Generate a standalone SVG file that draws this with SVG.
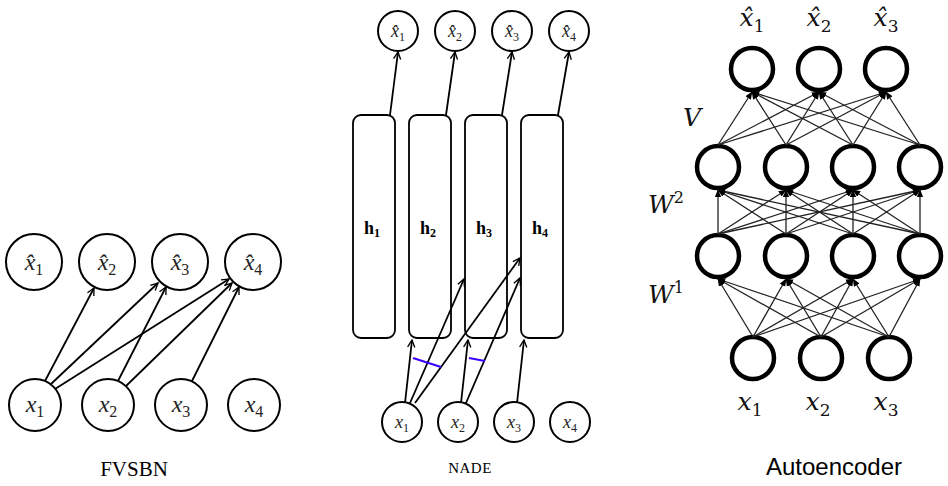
<svg xmlns="http://www.w3.org/2000/svg" width="948" height="486" viewBox="0 0 948 486">
<defs>
<marker id="oa" viewBox="0 0 10 10" refX="9" refY="5" markerWidth="9" markerHeight="9" orient="auto" markerUnits="userSpaceOnUse"><path d="M1,1 L9,5 L1,9" fill="none" stroke="#000" stroke-width="1.5"/></marker>
<marker id="fa" viewBox="0 0 10 10" refX="9" refY="5" markerWidth="8" markerHeight="8" orient="auto" markerUnits="userSpaceOnUse"><path d="M0,1 L10,5 L0,9 Z" fill="#000"/></marker>
</defs>
<style>
.c{fill:#fff;stroke:#000;stroke-width:2}
.ac{fill:#fff;stroke:#000;stroke-width:4.5}
.r{fill:#fff;stroke:#000;stroke-width:1.8}
.e{stroke:#000;stroke-width:1.8;fill:none;marker-end:url(#oa)}
.ae{stroke:#222;stroke-width:1.3;fill:none;marker-end:url(#fa)}
.m{font-family:"Liberation Serif",serif;font-style:italic;text-anchor:middle;fill:#222}
.h{font-family:"Liberation Serif",serif;font-weight:bold;text-anchor:middle;font-size:18px}
.am{font-family:"DejaVu Serif","Liberation Serif",serif;font-style:italic;text-anchor:middle;font-size:25px;fill:#111}
.s{font-style:normal}
</style>
<rect width="948" height="486" fill="#fff"/>

<g id="fvsbn">
<g id="f_xh1"><circle class="c" cx="34" cy="262" r="28"/><text class="m" x="34" y="270" font-size="24">x̂<tspan class="s" font-size="16" dy="5">1</tspan></text></g>
<g id="f_xh2"><circle class="c" cx="107" cy="262" r="28"/><text class="m" x="107" y="270" font-size="24">x̂<tspan class="s" font-size="16" dy="5">2</tspan></text></g>
<g id="f_xh3"><circle class="c" cx="180" cy="262" r="28"/><text class="m" x="180" y="270" font-size="24">x̂<tspan class="s" font-size="16" dy="5">3</tspan></text></g>
<g id="f_xh4"><circle class="c" cx="253" cy="262" r="28"/><text class="m" x="253" y="270" font-size="24">x̂<tspan class="s" font-size="16" dy="5">4</tspan></text></g>
<g id="f_x1"><circle class="c" cx="35" cy="405" r="26"/><text class="m" x="35" y="412" font-size="24">x<tspan class="s" font-size="16" dy="5">1</tspan></text></g>
<g id="f_x2"><circle class="c" cx="108" cy="405" r="26"/><text class="m" x="108" y="412" font-size="24">x<tspan class="s" font-size="16" dy="5">2</tspan></text></g>
<g id="f_x3"><circle class="c" cx="181" cy="405" r="26"/><text class="m" x="181" y="412" font-size="24">x<tspan class="s" font-size="16" dy="5">3</tspan></text></g>
<g id="f_x4"><circle class="c" cx="254" cy="405" r="26"/><text class="m" x="254" y="412" font-size="24">x<tspan class="s" font-size="16" dy="5">4</tspan></text></g>
<text x="134" y="476" font-family="Liberation Serif,serif" font-size="21" text-anchor="middle">FVSBN</text>
</g>

<g id="nade">
<g id="n_xh1"><circle class="c" cx="398" cy="31" r="20"/><text class="m" x="398" y="37" font-size="18">x̂<tspan class="s" font-size="12" dy="4">1</tspan></text></g>
<g id="n_xh2"><circle class="c" cx="455" cy="31" r="20"/><text class="m" x="455" y="37" font-size="18">x̂<tspan class="s" font-size="12" dy="4">2</tspan></text></g>
<g id="n_xh3"><circle class="c" cx="512" cy="31" r="20"/><text class="m" x="512" y="37" font-size="18">x̂<tspan class="s" font-size="12" dy="4">3</tspan></text></g>
<g id="n_xh4"><circle class="c" cx="569" cy="31" r="20"/><text class="m" x="569" y="37" font-size="18">x̂<tspan class="s" font-size="12" dy="4">4</tspan></text></g>
<g id="n_h1"><rect class="r" x="353" y="115" width="42" height="223" rx="8"/><text class="h" x="372" y="234">h<tspan font-size="12" dy="3">1</tspan></text></g>
<g id="n_h2"><rect class="r" x="409" y="115" width="42" height="223" rx="8"/><text class="h" x="428" y="234">h<tspan font-size="12" dy="3">2</tspan></text></g>
<g id="n_h3"><rect class="r" x="465" y="115" width="42" height="223" rx="8"/><text class="h" x="484" y="234">h<tspan font-size="12" dy="3">3</tspan></text></g>
<g id="n_h4"><rect class="r" x="521" y="115" width="42" height="223" rx="8"/><text class="h" x="540" y="234">h<tspan font-size="12" dy="3">4</tspan></text></g>
<g id="n_x1"><circle class="c" cx="402" cy="422" r="20"/><text class="m" x="402" y="428" font-size="18">x<tspan class="s" font-size="12" dy="4">1</tspan></text></g>
<g id="n_x2"><circle class="c" cx="458" cy="422" r="20"/><text class="m" x="458" y="428" font-size="18">x<tspan class="s" font-size="12" dy="4">2</tspan></text></g>
<g id="n_x3"><circle class="c" cx="514" cy="422" r="20"/><text class="m" x="514" y="428" font-size="18">x<tspan class="s" font-size="12" dy="4">3</tspan></text></g>
<g id="n_x4"><circle class="c" cx="570" cy="422" r="20"/><text class="m" x="570" y="428" font-size="18">x<tspan class="s" font-size="12" dy="4">4</tspan></text></g>
<text x="470" y="473" font-family="Liberation Serif,serif" font-size="15" text-anchor="middle" letter-spacing="0.5">NADE</text>
</g>

<g id="autoencoder">
<g id="a_o1"><circle class="ac" cx="752" cy="69" r="21"/></g>
<g id="a_o2"><circle class="ac" cx="819" cy="69" r="21"/></g>
<g id="a_o3"><circle class="ac" cx="886" cy="69" r="21"/></g>
<g id="a_h21"><circle class="ac" cx="718" cy="167" r="21"/></g>
<g id="a_h22"><circle class="ac" cx="786" cy="167" r="21"/></g>
<g id="a_h23"><circle class="ac" cx="853" cy="167" r="21"/></g>
<g id="a_h24"><circle class="ac" cx="920" cy="167" r="21"/></g>
<g id="a_h11"><circle class="ac" cx="718" cy="256" r="21"/></g>
<g id="a_h12"><circle class="ac" cx="786" cy="256" r="21"/></g>
<g id="a_h13"><circle class="ac" cx="853" cy="256" r="21"/></g>
<g id="a_h14"><circle class="ac" cx="920" cy="256" r="21"/></g>
<g id="a_i1"><circle class="ac" cx="753" cy="358" r="21"/></g>
<g id="a_i2"><circle class="ac" cx="821" cy="358" r="21"/></g>
<g id="a_i3"><circle class="ac" cx="889" cy="358" r="21"/></g>
<text class="am" x="752" y="26">x̂<tspan class="s" font-size="17" dy="6">1</tspan></text>
<text class="am" x="819" y="26">x̂<tspan class="s" font-size="17" dy="6">2</tspan></text>
<text class="am" x="886" y="26">x̂<tspan class="s" font-size="17" dy="6">3</tspan></text>
<text class="am" x="750" y="410">x<tspan class="s" font-size="17" dy="6">1</tspan></text>
<text class="am" x="818" y="410">x<tspan class="s" font-size="17" dy="6">2</tspan></text>
<text class="am" x="886" y="410">x<tspan class="s" font-size="17" dy="6">3</tspan></text>
<text class="am" x="692" y="126">V</text>
<text class="am" x="666" y="213">W<tspan class="s" font-size="16" dy="-10">2</tspan></text>
<text class="am" x="666" y="303">W<tspan class="s" font-size="16" dy="-10">1</tspan></text>
<text x="834" y="475" font-family="Liberation Sans,Arial,sans-serif" font-size="24" text-anchor="middle">Autoencoder</text>
</g>

<g id="connectors">
<line class="e" x1="45" y1="381" x2="94" y2="288"/>
<line class="e" x1="51" y1="384" x2="158" y2="283"/>
<line class="e" x1="55" y1="389" x2="229" y2="279"/>
<line class="e" x1="118" y1="381" x2="166" y2="287"/>
<line class="e" x1="126" y1="386" x2="232" y2="283"/>
<line class="e" x1="192" y1="381" x2="239" y2="287"/>
<line class="e" x1="390" y1="115" x2="398" y2="52"/>
<line class="e" x1="446" y1="115" x2="455" y2="52"/>
<line class="e" x1="502" y1="115" x2="512" y2="52"/>
<line class="e" x1="558" y1="115" x2="569" y2="52"/>
<line class="e" x1="405" y1="403" x2="412" y2="340"/>
<line class="e" x1="410" y1="403" x2="464" y2="279"/>
<line class="e" x1="415" y1="403" x2="520" y2="258"/>
<line class="e" x1="461" y1="403" x2="468" y2="340"/>
<line class="e" x1="466" y1="403" x2="520" y2="278"/>
<line class="e" x1="517" y1="403" x2="524" y2="340"/>
<line x1="413" y1="358" x2="441" y2="367" stroke="#3a00ff" stroke-width="2"/>
<line x1="469" y1="358" x2="485" y2="361" stroke="#3a00ff" stroke-width="2"/>
<line class="ae" x1="753" y1="337" x2="718" y2="279"/>
<line class="ae" x1="753" y1="337" x2="786" y2="279"/>
<line class="ae" x1="753" y1="337" x2="853" y2="279"/>
<line class="ae" x1="753" y1="337" x2="920" y2="279"/>
<line class="ae" x1="821" y1="337" x2="718" y2="279"/>
<line class="ae" x1="821" y1="337" x2="786" y2="279"/>
<line class="ae" x1="821" y1="337" x2="853" y2="279"/>
<line class="ae" x1="821" y1="337" x2="920" y2="279"/>
<line class="ae" x1="889" y1="337" x2="718" y2="279"/>
<line class="ae" x1="889" y1="337" x2="786" y2="279"/>
<line class="ae" x1="889" y1="337" x2="853" y2="279"/>
<line class="ae" x1="889" y1="337" x2="920" y2="279"/>
<line class="ae" x1="718" y1="234" x2="718" y2="190"/>
<line class="ae" x1="718" y1="234" x2="786" y2="190"/>
<line class="ae" x1="718" y1="234" x2="853" y2="190"/>
<line class="ae" x1="718" y1="234" x2="920" y2="190"/>
<line class="ae" x1="786" y1="234" x2="718" y2="190"/>
<line class="ae" x1="786" y1="234" x2="786" y2="190"/>
<line class="ae" x1="786" y1="234" x2="853" y2="190"/>
<line class="ae" x1="786" y1="234" x2="920" y2="190"/>
<line class="ae" x1="853" y1="234" x2="718" y2="190"/>
<line class="ae" x1="853" y1="234" x2="786" y2="190"/>
<line class="ae" x1="853" y1="234" x2="853" y2="190"/>
<line class="ae" x1="853" y1="234" x2="920" y2="190"/>
<line class="ae" x1="920" y1="234" x2="718" y2="190"/>
<line class="ae" x1="920" y1="234" x2="786" y2="190"/>
<line class="ae" x1="920" y1="234" x2="853" y2="190"/>
<line class="ae" x1="920" y1="234" x2="920" y2="190"/>
<line class="ae" x1="718" y1="145" x2="752" y2="92"/>
<line class="ae" x1="718" y1="145" x2="819" y2="92"/>
<line class="ae" x1="718" y1="145" x2="886" y2="92"/>
<line class="ae" x1="786" y1="145" x2="752" y2="92"/>
<line class="ae" x1="786" y1="145" x2="819" y2="92"/>
<line class="ae" x1="786" y1="145" x2="886" y2="92"/>
<line class="ae" x1="853" y1="145" x2="752" y2="92"/>
<line class="ae" x1="853" y1="145" x2="819" y2="92"/>
<line class="ae" x1="853" y1="145" x2="886" y2="92"/>
<line class="ae" x1="920" y1="145" x2="752" y2="92"/>
<line class="ae" x1="920" y1="145" x2="819" y2="92"/>
<line class="ae" x1="920" y1="145" x2="886" y2="92"/>
</g>
</svg>
